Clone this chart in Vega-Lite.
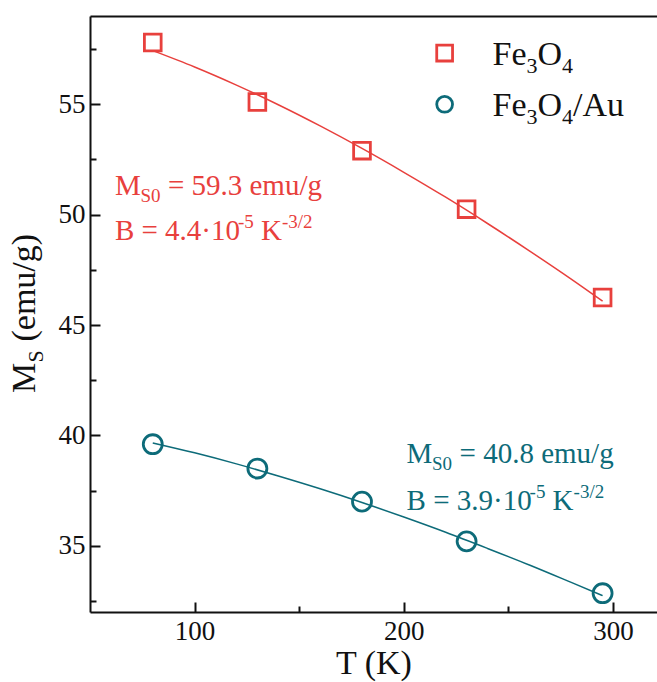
{
  "$schema": "https://vega.github.io/schema/vega-lite/v6.json",
  "width": 567,
  "height": 596,
  "autosize": {"type": "none"},
  "padding": {"left": 90, "top": 16, "right": 0, "bottom": 70},
  "background": "white",
  "config": {
    "view": {"stroke": null},
    "font": "'Liberation Serif', 'Times New Roman', 'DejaVu Serif', serif",
    "axis": {
      "labelFont": "'Liberation Serif', 'Times New Roman', 'DejaVu Serif', serif",
      "labelFontSize": 27,
      "labelColor": "#111",
      "titleFont": "'Liberation Serif', 'Times New Roman', 'DejaVu Serif', serif",
      "titleFontSize": 34,
      "titleFontWeight": "normal",
      "titleColor": "#111",
      "domainColor": "#111",
      "domainWidth": 2,
      "tickColor": "#111",
      "tickWidth": 2,
      "grid": false
    },
    "text": {"font": "'Liberation Serif', 'Times New Roman', 'DejaVu Serif', serif"}
  },
  "datasets": {
    "pts": [
      {"T": 80, "M": 57.8, "s": "Fe3O4"},
      {"T": 130, "M": 55.1, "s": "Fe3O4"},
      {"T": 180, "M": 52.9, "s": "Fe3O4"},
      {"T": 230, "M": 50.25, "s": "Fe3O4"},
      {"T": 295, "M": 46.25, "s": "Fe3O4"},
      {"T": 80, "M": 39.6, "s": "Fe3O4/Au"},
      {"T": 130, "M": 38.5, "s": "Fe3O4/Au"},
      {"T": 180, "M": 37.0, "s": "Fe3O4/Au"},
      {"T": 230, "M": 35.2, "s": "Fe3O4/Au"},
      {"T": 295, "M": 32.85, "s": "Fe3O4/Au"}
    ],
    "fit": [
      {"T": 80, "M": 57.43, "s": "Fe3O4"},
      {"T": 100, "M": 56.69, "s": "Fe3O4"},
      {"T": 120, "M": 55.87, "s": "Fe3O4"},
      {"T": 140, "M": 54.98, "s": "Fe3O4"},
      {"T": 160, "M": 54.02, "s": "Fe3O4"},
      {"T": 180, "M": 53.0, "s": "Fe3O4"},
      {"T": 200, "M": 51.92, "s": "Fe3O4"},
      {"T": 220, "M": 50.79, "s": "Fe3O4"},
      {"T": 240, "M": 49.6, "s": "Fe3O4"},
      {"T": 260, "M": 48.36, "s": "Fe3O4"},
      {"T": 280, "M": 47.08, "s": "Fe3O4"},
      {"T": 295, "M": 46.08, "s": "Fe3O4"},
      {"T": 80, "M": 39.66, "s": "Fe3O4/Au"},
      {"T": 100, "M": 39.21, "s": "Fe3O4/Au"},
      {"T": 120, "M": 38.71, "s": "Fe3O4/Au"},
      {"T": 140, "M": 38.16, "s": "Fe3O4/Au"},
      {"T": 160, "M": 37.58, "s": "Fe3O4/Au"},
      {"T": 180, "M": 36.96, "s": "Fe3O4/Au"},
      {"T": 200, "M": 36.3, "s": "Fe3O4/Au"},
      {"T": 220, "M": 35.61, "s": "Fe3O4/Au"},
      {"T": 240, "M": 34.88, "s": "Fe3O4/Au"},
      {"T": 260, "M": 34.13, "s": "Fe3O4/Au"},
      {"T": 280, "M": 33.34, "s": "Fe3O4/Au"},
      {"T": 295, "M": 32.74, "s": "Fe3O4/Au"}
    ],
    "legend": [
      {"T": 219.5, "M": 57.32, "s": "Fe3O4"},
      {"T": 219.5, "M": 55.0, "s": "Fe3O4/Au"}
    ],
    "legtext": [
      {"T": 242.4, "M": 56.78, "s": "Fe3O4"},
      {"T": 242.4, "M": 54.46, "s": "Fe3O4/Au"}
    ],
    "ann1": [
      {"T": 61.9, "M": 50.89, "s": "Fe3O4", "v": "59.3"},
      {"T": 201.3, "M": 38.75, "s": "Fe3O4/Au", "v": "40.8"}
    ],
    "ann2": [
      {"T": 61.9, "M": 48.85, "s": "Fe3O4", "v": "4.4"},
      {"T": 201.3, "M": 36.62, "s": "Fe3O4/Au", "v": "3.9"}
    ],
    "ytitle": [
      {"T": 23.75, "M": 41.92}
    ]
  },
  "resolve": {"axis": {"x": "independent", "y": "independent"}},
  "layer": [
    {
      "data": {"name": "fit"},
      "mark": {"type": "line", "strokeWidth": 1.5, "interpolate": "monotone"},
      "encoding": {
        "x": {"field": "T", "type": "quantitative",
              "scale": {"domain": [50, 321], "nice": false, "zero": false},
              "axis": {"orient": "bottom", "values": [100, 200, 300], "tickSize": -10, "labelPadding": 16, "title": "T (K)", "titlePadding": 2}},
        "y": {"field": "M", "type": "quantitative",
              "scale": {"domain": [32, 59], "nice": false, "zero": false},
              "axis": {"orient": "left", "values": [35, 40, 45, 50, 55], "tickSize": -10, "labelPadding": 15, "title": null}},
        "color": {"field": "s", "type": "nominal",
                  "scale": {"domain": ["Fe3O4", "Fe3O4/Au"], "range": ["#e8403d", "#0d6b79"]}, "legend": null},
        "detail": {"field": "s"}
      }
    },
    {
      "data": {"name": "pts"},
      "mark": {"type": "point", "filled": false, "strokeWidth": 2.8, "opacity": 1},
      "encoding": {
        "x": {"field": "T", "type": "quantitative",
              "axis": {"orient": "bottom", "values": [150, 250], "tickSize": -6, "labels": false, "domain": false, "title": null}},
        "y": {"field": "M", "type": "quantitative",
              "axis": {"orient": "left", "values": [32.5, 37.5, 42.5, 47.5, 52.5, 57.5], "tickSize": -6, "labels": false, "domain": false, "title": null}},
        "color": {"field": "s", "type": "nominal", "legend": null},
        "shape": {"field": "s", "type": "nominal", "scale": {"domain": ["Fe3O4", "Fe3O4/Au"], "range": ["square", "circle"]}, "legend": null},
        "size": {"field": "s", "type": "nominal", "scale": {"domain": ["Fe3O4", "Fe3O4/Au"], "range": [280, 360]}, "legend": null}
      }
    },
    {
      "data": {"name": "legend"},
      "mark": {"type": "point", "filled": false, "strokeWidth": 2.8, "opacity": 1},
      "encoding": {
        "x": {"field": "T", "type": "quantitative",
              "axis": {"orient": "top", "ticks": false, "labels": false, "domain": true, "title": null}},
        "y": {"field": "M", "type": "quantitative", "axis": null},
        "color": {"field": "s", "type": "nominal", "legend": null},
        "shape": {"field": "s", "type": "nominal", "legend": null},
        "size": {"value": 250}
      }
    },
    {
      "data": {"name": "legtext"},
      "mark": {"type": "text", "fontSize": 34, "align": "left", "baseline": "alphabetic", "color": "#111", "text": "Fe"},
      "encoding": {
        "x": {"field": "T", "type": "quantitative", "axis": null},
        "y": {"field": "M", "type": "quantitative", "axis": null}
      }
    },
    {
      "data": {"name": "legtext"},
      "mark": {"type": "text", "fontSize": 22, "align": "left", "baseline": "alphabetic", "color": "#111", "text": "3", "dx": 34, "dy": 8},
      "encoding": {
        "x": {"field": "T", "type": "quantitative", "axis": null},
        "y": {"field": "M", "type": "quantitative", "axis": null}
      }
    },
    {
      "data": {"name": "legtext"},
      "mark": {"type": "text", "fontSize": 34, "align": "left", "baseline": "alphabetic", "color": "#111", "text": "O", "dx": 45},
      "encoding": {
        "x": {"field": "T", "type": "quantitative", "axis": null},
        "y": {"field": "M", "type": "quantitative", "axis": null}
      }
    },
    {
      "data": {"name": "legtext"},
      "mark": {"type": "text", "fontSize": 22, "align": "left", "baseline": "alphabetic", "color": "#111", "text": "4", "dx": 69.5, "dy": 8},
      "encoding": {
        "x": {"field": "T", "type": "quantitative", "axis": null},
        "y": {"field": "M", "type": "quantitative", "axis": null}
      }
    },
    {
      "data": {"name": "legtext"},
      "transform": [{"filter": "datum.s === 'Fe3O4/Au'"}],
      "mark": {"type": "text", "fontSize": 34, "align": "left", "baseline": "alphabetic", "color": "#111", "text": "/Au", "dx": 80.5},
      "encoding": {
        "x": {"field": "T", "type": "quantitative", "axis": null},
        "y": {"field": "M", "type": "quantitative", "axis": null}
      }
    },
    {
      "data": {"name": "ann1"},
      "mark": {"type": "text", "fontSize": 29, "align": "left", "baseline": "alphabetic", "text": "M"},
      "encoding": {
        "x": {"field": "T", "type": "quantitative", "axis": null},
        "y": {"field": "M", "type": "quantitative", "axis": null},
        "color": {"field": "s", "type": "nominal", "legend": null}
      }
    },
    {
      "data": {"name": "ann1"},
      "mark": {"type": "text", "fontSize": 19, "align": "left", "baseline": "alphabetic", "text": "S0", "dx": 25.5, "dy": 7},
      "encoding": {
        "x": {"field": "T", "type": "quantitative", "axis": null},
        "y": {"field": "M", "type": "quantitative", "axis": null},
        "color": {"field": "s", "type": "nominal", "legend": null}
      }
    },
    {
      "data": {"name": "ann1"},
      "mark": {"type": "text", "fontSize": 29, "align": "left", "baseline": "alphabetic", "dx": 53},
      "encoding": {
        "x": {"field": "T", "type": "quantitative", "axis": null},
        "y": {"field": "M", "type": "quantitative", "axis": null},
        "text": {"value": {"expr": "'= ' + datum.v + ' emu/g'"}},
        "color": {"field": "s", "type": "nominal", "legend": null}
      }
    },
    {
      "data": {"name": "ann2"},
      "mark": {"type": "text", "fontSize": 29, "align": "left", "baseline": "alphabetic"},
      "encoding": {
        "x": {"field": "T", "type": "quantitative", "axis": null},
        "y": {"field": "M", "type": "quantitative", "axis": null},
        "text": {"value": {"expr": "'B = ' + datum.v + '·10'"}},
        "color": {"field": "s", "type": "nominal", "legend": null}
      }
    },
    {
      "data": {"name": "ann2"},
      "mark": {"type": "text", "fontSize": 19, "align": "left", "baseline": "alphabetic", "text": "-5", "dx": 123, "dy": -12},
      "encoding": {
        "x": {"field": "T", "type": "quantitative", "axis": null},
        "y": {"field": "M", "type": "quantitative", "axis": null},
        "color": {"field": "s", "type": "nominal", "legend": null}
      }
    },
    {
      "data": {"name": "ann2"},
      "mark": {"type": "text", "fontSize": 29, "align": "left", "baseline": "alphabetic", "text": "K", "dx": 146},
      "encoding": {
        "x": {"field": "T", "type": "quantitative", "axis": null},
        "y": {"field": "M", "type": "quantitative", "axis": null},
        "color": {"field": "s", "type": "nominal", "legend": null}
      }
    },
    {
      "data": {"name": "ann2"},
      "mark": {"type": "text", "fontSize": 19, "align": "left", "baseline": "alphabetic", "text": "-3/2", "dx": 167, "dy": -12},
      "encoding": {
        "x": {"field": "T", "type": "quantitative", "axis": null},
        "y": {"field": "M", "type": "quantitative", "axis": null},
        "color": {"field": "s", "type": "nominal", "legend": null}
      }
    },
    {
      "data": {"name": "ytitle"},
      "mark": {"type": "text", "fontSize": 34, "align": "left", "baseline": "alphabetic", "angle": 270, "color": "#111", "text": "M"},
      "encoding": {
        "x": {"field": "T", "type": "quantitative", "axis": null},
        "y": {"field": "M", "type": "quantitative", "axis": null}
      }
    },
    {
      "data": {"name": "ytitle"},
      "mark": {"type": "text", "fontSize": 22, "align": "left", "baseline": "alphabetic", "angle": 270, "color": "#111", "text": "S", "dx": 30.5, "dy": 8},
      "encoding": {
        "x": {"field": "T", "type": "quantitative", "axis": null},
        "y": {"field": "M", "type": "quantitative", "axis": null}
      }
    },
    {
      "data": {"name": "ytitle"},
      "mark": {"type": "text", "fontSize": 34, "align": "left", "baseline": "alphabetic", "angle": 270, "color": "#111", "text": "(emu/g)", "dx": 51.5},
      "encoding": {
        "x": {"field": "T", "type": "quantitative", "axis": null},
        "y": {"field": "M", "type": "quantitative", "axis": null}
      }
    }
  ]
}
